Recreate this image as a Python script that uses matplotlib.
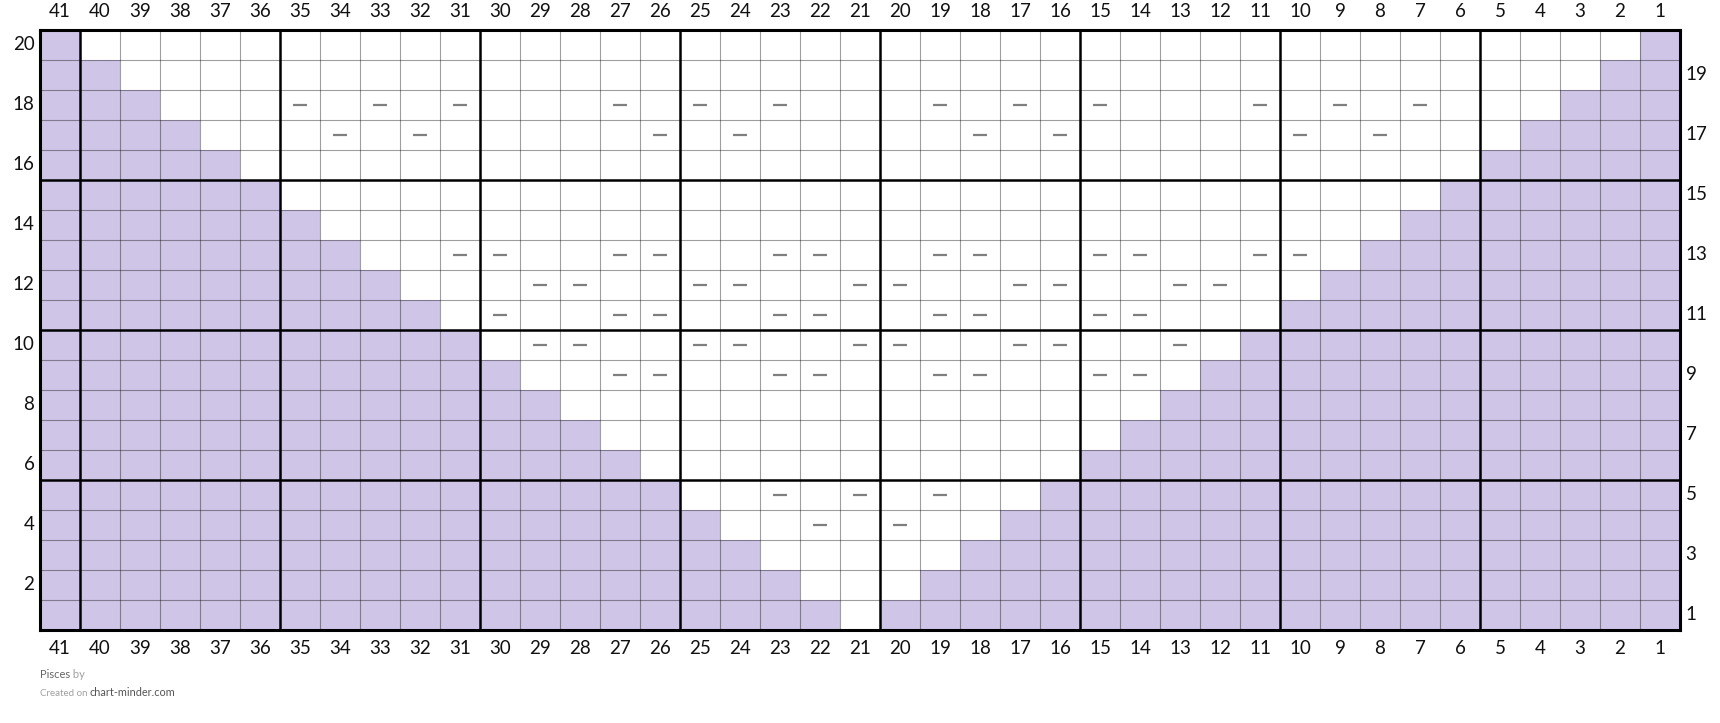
import matplotlib

matplotlib.use("Agg")
import matplotlib.pyplot as plt
import numpy as np

plt.rcParams["font.family"] = ["Lato", "DejaVu Sans"]

# chart columns (right to left numbering) and rows
columns = [41, 40, 39, 38, 37, 36, 35, 34, 33, 32, 31, 30, 29, 28, 27, 26, 25, 24, 23, 22, 21,
           20, 19, 18, 17, 16, 15, 14, 13, 12, 11, 10, 9, 8, 7, 6, 5, 4, 3, 2, 1]
rows = [1, 2, 3, 4, 5, 6, 7, 8, 9, 10, 11, 12, 13, 14, 15, 16, 17, 18, 19, 20]

# white (unshaded) span for each row, from column .. to column
white_from = [21, 22, 23, 24, 25, 26, 27, 28, 29, 30, 31, 32, 33, 34, 35, 36, 37, 38, 39, 40]
white_to = [21, 20, 19, 18, 17, 16, 15, 14, 13, 12, 11, 10, 9, 8, 7, 6, 5, 4, 3, 2]

# purl stitches (dash symbol), per row
purl_row4 = [22, 20]
purl_row5 = [23, 21, 19]
purl_row9 = [27, 26, 23, 22, 19, 18, 15, 14]
purl_row10 = [29, 28, 25, 24, 21, 20, 17, 16, 13]
purl_row11 = [30, 27, 26, 23, 22, 19, 18, 15, 14]
purl_row12 = [29, 28, 25, 24, 21, 20, 17, 16, 13, 12]
purl_row13 = [31, 30, 27, 26, 23, 22, 19, 18, 15, 14, 11, 10]
purl_row17 = [34, 32, 26, 24, 18, 16, 10, 8]
purl_row18 = [35, 33, 31, 27, 25, 23, 19, 17, 15, 11, 9, 7]

purls = {4: purl_row4, 5: purl_row5, 9: purl_row9, 10: purl_row10, 11: purl_row11,
         12: purl_row12, 13: purl_row13, 17: purl_row17, 18: purl_row18}

purple = "#cfc5e7"
W, H = 1720, 723

fig = plt.figure(figsize=(W / 100, H / 100), dpi=100)
ax = fig.add_axes([40 / W, (H - 630) / H, 1640 / W, 600 / H])

# shading matrix
shade = np.ones((len(rows), len(columns)))
for i, r in enumerate(rows):
    for j, c in enumerate(columns):
        if white_to[i] <= c <= white_from[i]:
            shade[i, j] = 0

xe = np.arange(min(columns) - 0.5, max(columns) + 1.5)
ye = np.arange(min(rows) - 0.5, max(rows) + 1.5)
cmap = matplotlib.colors.ListedColormap(["white", purple])
ax.pcolormesh(xe, ye, shade[:, ::-1], cmap=cmap, vmin=0, vmax=1)

# thin grid
for x in xe:
    ax.axvline(x, color="black", alpha=0.38, lw=0.8, zorder=2)
for y in ye:
    ax.axhline(y, color="black", alpha=0.38, lw=0.8, zorder=2)
# thick every 5 stitches / rows
for x in xe:
    if (x - 0.5) % 5 == 0 and min(xe) < x < max(xe):
        ax.axvline(x, color="black", lw=1.8, zorder=3)
for y in ye:
    if (y - 0.5) % 5 == 0 and min(ye) < y < max(ye):
        ax.axhline(y, color="black", lw=1.8, zorder=3)

# purl dashes
for r, cols in purls.items():
    ax.scatter(cols, [r] * len(cols), marker="_", s=110, linewidths=1.6,
               color="#7f7f7f", zorder=4)

ax.set_xlim(max(columns) + 0.5, min(columns) - 0.5)
ax.set_ylim(min(rows) - 0.5, max(rows) + 0.5)
ax.set_xticks([])
ax.set_yticks([])
for s in ax.spines.values():
    s.set_linewidth(2.2)
    s.set_zorder(5)

# column numbers top and bottom
for c in columns:
    ax.annotate(str(c), (c, max(rows) + 0.5), xytext=(0, 13), textcoords="offset points",
                ha="center", va="center", fontsize=13.5, color="#111111")
    ax.annotate(str(c), (c, min(rows) - 0.5), xytext=(0, -13.5), textcoords="offset points",
                ha="center", va="center", fontsize=13.5, color="#111111")

# row numbers: even on the left, odd on the right
for r in rows:
    if r % 2 == 0:
        ax.annotate(str(r), (max(columns) + 0.5, r), xytext=(-4, 0), textcoords="offset points",
                    ha="right", va="center", fontsize=13.5, color="#111111")
    else:
        ax.annotate(str(r), (min(columns) - 0.5, r), xytext=(4, 0), textcoords="offset points",
                    ha="left", va="center", fontsize=13.5, color="#111111")

# footer
fig.canvas.draw()
renderer = fig.canvas.get_renderer()


def text_row(parts, x, y):
    for txt, size, col in parts:
        t = fig.text(x / W, 1 - y / H, txt, fontsize=size, color=col, va="center", ha="left")
        bb = t.get_window_extent(renderer)
        x = x + bb.width


text_row([("Pisces", 8, "#666666"), (" by", 8, "#a0a0a0")], 40, 675)
text_row([("Created on ", 7, "#a0a0a0"), ("chart-minder.com", 7.8, "#555555")], 40, 693)

fig.savefig("out.png", dpi=100)
